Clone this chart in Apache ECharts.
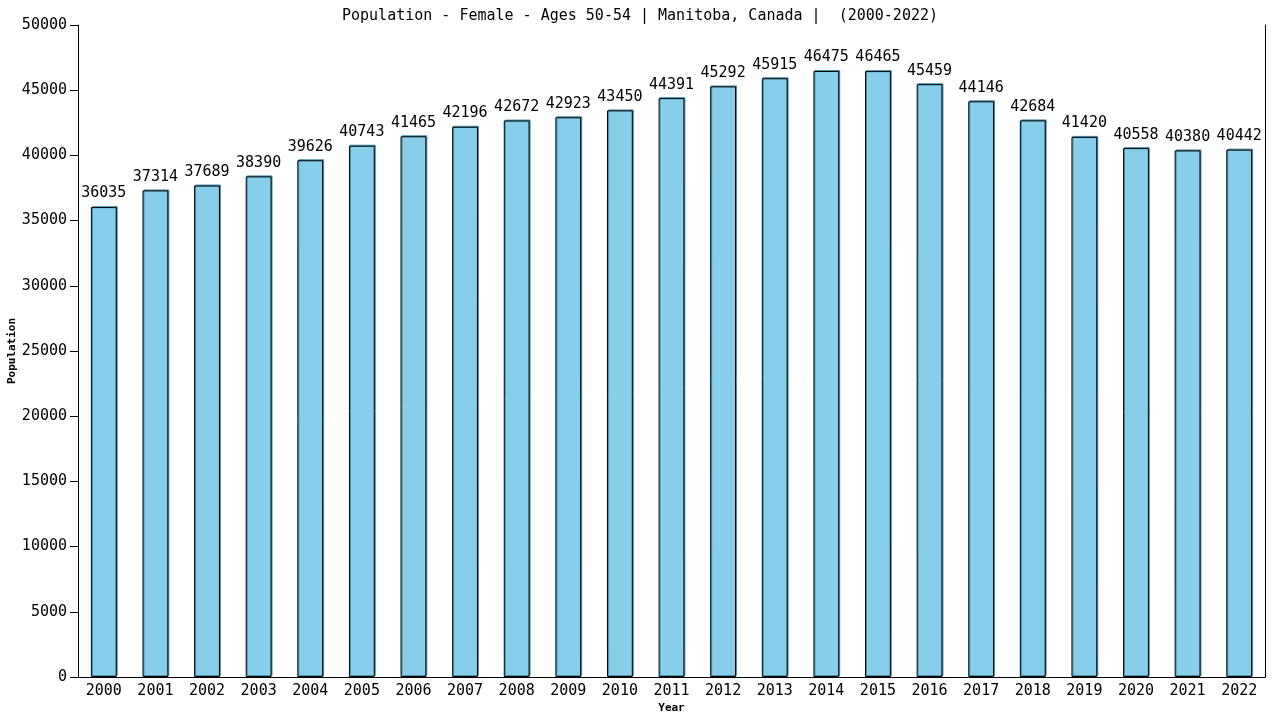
<!DOCTYPE html>
<html>
<head>
<meta charset="utf-8">
<script src="https://cdn.jsdelivr.net/npm/echarts@6/dist/echarts.min.js"></script>
<style>
html, body { margin: 0; padding: 0; background: #fff; }
#chart { width: 1280px; height: 720px; }
</style>
</head>
<body>
<div id="chart"></div>
<script>
// data
var years = ['2000', '2001', '2002', '2003', '2004', '2005', '2006', '2007', '2008', '2009', '2010', '2011',
    '2012', '2013', '2014', '2015', '2016', '2017', '2018', '2019', '2020', '2021', '2022'];
var population = [36035, 37314, 37689, 38390, 39626, 40743, 41465, 42196, 42672, 42923, 43450, 44391,
    45292, 45915, 46475, 46465, 45459, 44146, 42684, 41420, 40558, 40380, 40442];

var font = 'DejaVu Sans Mono';

var myChart = echarts.init(document.getElementById('chart'));
var option = {
    backgroundColor: '#fff',
    animation: false,
    title: {
        text: 'Population - Female - Ages 50-54 | Manitoba, Canada |  (2000-2022)',
        left: 'center',
        top: 4,
        textStyle: {
            fontFamily: font,
            fontSize: 15,
            fontWeight: 'normal',
            color: '#000'
        }
    },
    grid: {
        left: 78,
        right: 15,
        top: 25,
        bottom: 43,
        outerBoundsMode: 'none',
        containLabel: false
    },
    xAxis: {
        type: 'category',
        data: years,
        name: 'Year',
        nameLocation: 'middle',
        nameGap: 26,
        nameMoveOverlap: false,
        nameTextStyle: { fontFamily: font, fontSize: 11, fontWeight: 'bold', color: '#000' },
        axisLine: { lineStyle: { color: '#000', width: 1 } },
        axisTick: { show: false },
        axisLabel: { fontFamily: font, fontSize: 15, color: '#000', margin: 7 }
    },
    yAxis: [{
        type: 'value',
        min: 0,
        max: 50000,
        interval: 5000,
        name: 'Population',
        nameLocation: 'middle',
        nameGap: 60,
        nameMoveOverlap: false,
        nameTextStyle: { fontFamily: font, fontSize: 11, fontWeight: 'bold', color: '#000' },
        axisLine: { show: true, lineStyle: { color: '#000', width: 1 } },
        axisTick: { show: true, length: 8, lineStyle: { color: '#000' } },
        splitLine: { show: false },
        axisLabel: {
            fontFamily: font, fontSize: 15, color: '#000', margin: 11,
            formatter: function(v) { return String(v); }
        }
    }, {
        type: 'value',
        min: 0,
        max: 50000,
        position: 'right',
        axisLine: { show: true, lineStyle: { color: '#000', width: 1 } },
        axisTick: { show: false },
        axisLabel: { show: false },
        splitLine: { show: false }
    }],
    series: [{
        type: 'bar',
        data: population,
        barWidth: '50%',
        itemStyle: {
            color: '#87CEEB',
            borderColor: '#000',
            borderWidth: 1,
            shadowColor: '#4a90b0',
            shadowOffsetX: 1,
            shadowOffsetY: -1
        },
        label: {
            show: true,
            position: 'top',
            distance: 6,
            fontFamily: font,
            fontSize: 15,
            color: '#000'
        }
    }]
};
myChart.setOption(option);
</script>
</body>
</html>
